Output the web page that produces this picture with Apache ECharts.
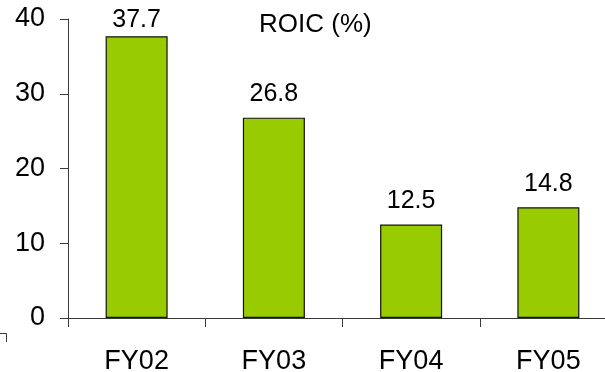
<!DOCTYPE html>
<html>
<head>
<meta charset="utf-8">
<script src="https://cdn.jsdelivr.net/npm/echarts@6/dist/echarts.min.js"></script>
<style>
  html, body { margin: 0; padding: 0; background: #fff; }
  #chart { width: 605px; height: 372px; }
</style>
</head>
<body>
<div id="chart"></div>
<script>
// Return on invested capital by fiscal year
const categories = ['FY02', 'FY03', 'FY04', 'FY05'];
const roicValues = [37.7, 26.8, 12.5, 14.8];
const yTicks = { min: 0, max: 40, interval: 10 };
const chartTitle = 'ROIC (%)';

const FONT = '"Liberation Sans", Arial, sans-serif';
const AXIS_COLOR = '#3a3a3a';

// value labels sit above each bar; ones close to the top of the axis
// are tucked in tighter so they stay inside the chart
const LABEL_GAP = 11;
const LABEL_GAP_NEAR_TOP = 4;
const barData = roicValues.map(v => ({
  value: v,
  label: { distance: v > yTicks.max - 4 ? LABEL_GAP_NEAR_TOP : LABEL_GAP }
}));

const chart = echarts.init(document.getElementById('chart'), null, { renderer: 'canvas' });

chart.setOption({
  animation: false,
  backgroundColor: '#ffffff',
  title: {
    text: chartTitle,
    left: 259,
    top: 12,
    padding: 0,
    textStyle: { fontFamily: FONT, fontSize: 26, fontWeight: 'normal', color: '#000' }
  },
  // plot area runs a little past the right edge of the canvas
  grid: {
    left: 68, width: 549, top: 19, height: 299,
    containLabel: false,
    outerBoundsMode: 'none'
  },
  xAxis: {
    type: 'category',
    data: categories,
    axisLine: { lineStyle: { color: AXIS_COLOR, width: 1 } },
    axisTick: { show: true, length: 9, alignWithLabel: false, lineStyle: { color: AXIS_COLOR } },
    axisLabel: { fontFamily: FONT, fontSize: 27, color: '#000', margin: 30 }
  },
  yAxis: {
    type: 'value',
    min: yTicks.min,
    max: yTicks.max,
    interval: yTicks.interval,
    splitLine: { show: false },
    axisLine: { show: true, lineStyle: { color: AXIS_COLOR, width: 1 } },
    axisTick: { show: true, length: 8, lineStyle: { color: AXIS_COLOR } },
    axisLabel: { fontFamily: FONT, fontSize: 27, color: '#000', margin: 23 }
  },
  series: [{
    type: 'bar',
    data: barData,
    barWidth: 62,
    itemStyle: { color: '#99cc00', borderColor: '#111', borderWidth: 1.2 },
    label: {
      show: true,
      position: 'top',
      fontFamily: FONT,
      fontSize: 25,
      color: '#000',
      formatter: p => p.value.toFixed(1)
    }
  }],
  graphic: [{
    type: 'polyline',
    shape: { points: [[0, 333.5], [6.5, 333.5], [6.5, 342]] },
    style: { stroke: AXIS_COLOR, lineWidth: 1, fill: null }
  }]
});
</script>
</body>
</html>
